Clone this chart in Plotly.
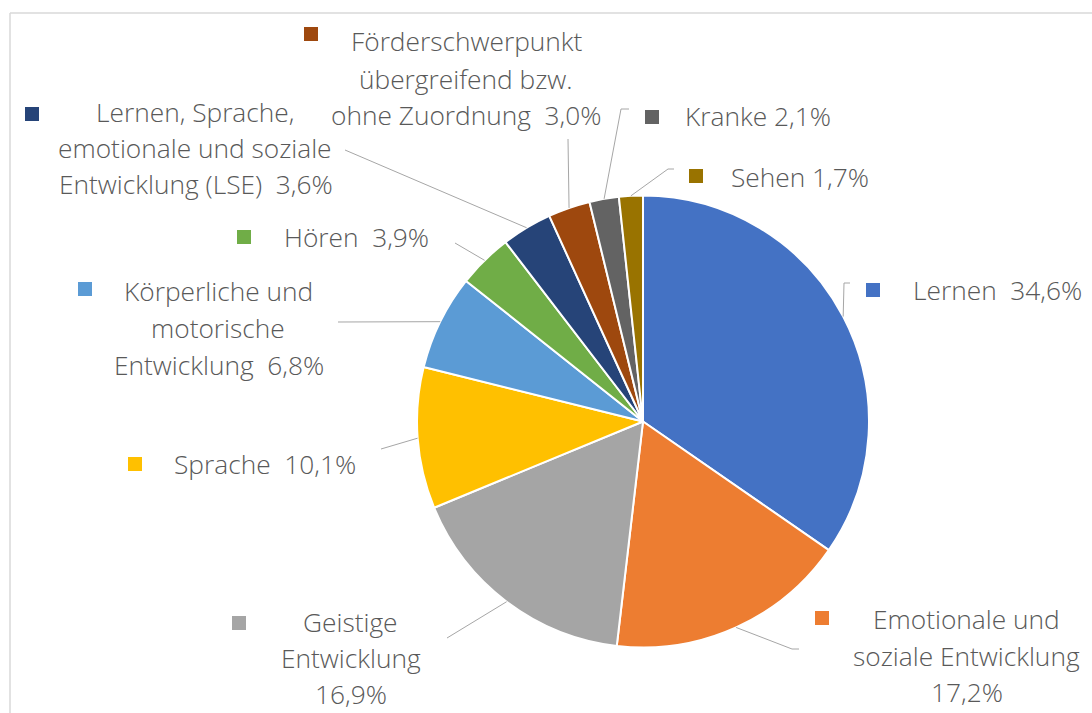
import math
import plotly.graph_objects as go

# ---------------- data ----------------
categories = [
    "Lernen",
    "Emotionale und soziale Entwicklung",
    "Geistige Entwicklung",
    "Sprache",
    "Körperliche und motorische Entwicklung",
    "Hören",
    "Lernen, Sprache, emotionale und soziale Entwicklung (LSE)",
    "Förderschwerpunkt übergreifend bzw. ohne Zuordnung",
    "Kranke",
    "Sehen",
]
values = [34.6, 17.2, 16.9, 10.1, 6.8, 3.9, 3.6, 3.0, 2.1, 1.7]
colors = ["#4472C4", "#ED7D31", "#A5A5A5", "#FFC000", "#5B9BD5",
          "#70AD47", "#264478", "#9E480E", "#636363", "#997300"]

# label line breaks (text only); pct appended per layout spec
name_lines = [
    ["Lernen"],
    ["Emotionale und", "soziale Entwicklung"],
    ["Geistige", "Entwicklung"],
    ["Sprache"],
    ["Körperliche und", "motorische", "Entwicklung"],
    ["Hören"],
    ["Lernen, Sprache,", "emotionale und soziale", "Entwicklung (LSE)"],
    ["Förderschwerpunkt", "übergreifend bzw.", "ohne Zuordnung"],
    ["Kranke"],
    ["Sehen"],
]

# ---------------- layout constants (pixels) ----------------
W, H = 1092, 713
CX, CY, R = 643, 421.5, 226
FONT = "Open Sans"
FSIZE = 26.3
TXT = "#595959"
LEADER = "#A6A6A6"
SQ = 14

# per category: square top-left, line centers, pct placement, sep, leader waypoints
lay = [
    dict(sq=(866, 283), lines=[(997, 290)], pct="same", sep="  ", lead=[(844, 283), (850, 283)]),
    dict(sq=(815, 611), lines=[(966, 619), (966, 656), (967, 692)], pct="new", sep="", lead=[(792, 649), (799, 649)]),
    dict(sq=(232, 616), lines=[(350, 622), (351, 658), (351, 694)], pct="new", sep="", lead=[(447, 638)]),
    dict(sq=(128, 457), lines=[(265, 464)], pct="same", sep="  ", lead=[(381, 449)]),
    dict(sq=(78, 282), lines=[(218, 291), (218, 328), (219, 365)], pct="same", sep="  ", lead=[(338, 322)]),
    dict(sq=(237, 230), lines=[(356, 237)], pct="same", sep="  ", lead=[(455, 243)]),
    dict(sq=(25, 107), lines=[(195, 112), (195, 148), (196, 184)], pct="same", sep="  ", lead=[(345, 150)]),
    dict(sq=(304, 27), lines=[(467, 41), (466, 79), (466, 115)], pct="same", sep="  ", lead=[(568, 139)]),
    dict(sq=(645, 110), lines=[(758, 116)], pct="same", sep=" ", lead=[(621, 109), (629, 109)]),
    dict(sq=(689, 169), lines=[(800, 177)], pct="same", sep=" ", lead=[(668, 169), (674, 169)]),
]


def px(x):
    return x / W


def py(y):
    return 1 - y / H


def fmt(v):
    return f"{v:.1f}".replace(".", ",") + "%"


fig = go.Figure()
fig.add_trace(go.Pie(
    labels=categories,
    values=values,
    sort=False,
    direction="clockwise",
    rotation=0,
    marker=dict(colors=colors, line=dict(color="white", width=2)),
    textinfo="none",
    hoverinfo="label+percent",
    showlegend=False,
    domain=dict(x=[px(CX - R), px(CX + R)], y=[py(CY + R), py(CY - R)]),
))

shapes = []
annotations = []

# chart border (light gray)
shapes.append(dict(type="line", xref="paper", yref="paper",
                   x0=px(10), y0=py(13), x1=px(W + 5), y1=py(13),
                   line=dict(color="#D9D9D9", width=1.5)))
shapes.append(dict(type="line", xref="paper", yref="paper",
                   x0=px(10), y0=py(13), x1=px(10), y1=py(H + 5),
                   line=dict(color="#D9D9D9", width=1.5)))

total = sum(values)
cum = 0.0
for i, v in enumerate(values):
    mid = (cum + v / 2) / total * 2 * math.pi
    cum += v
    ax = CX + R * math.sin(mid)
    ay = CY - R * math.cos(mid)
    L = lay[i]
    pts = [(ax, ay)] + L["lead"]
    for (x0, y0), (x1, y1) in zip(pts[:-1], pts[1:]):
        shapes.append(dict(type="line", xref="paper", yref="paper",
                           x0=px(x0), y0=py(y0), x1=px(x1), y1=py(y1),
                           line=dict(color=LEADER, width=1)))
    # marker square
    sx, sy = L["sq"]
    shapes.append(dict(type="rect", xref="paper", yref="paper",
                       x0=px(sx), y0=py(sy), x1=px(sx + SQ), y1=py(sy + SQ),
                       fillcolor=colors[i], line=dict(width=0)))
    # text lines
    lines = list(name_lines[i])
    if L["pct"] == "same":
        lines[-1] = lines[-1] + L["sep"] + fmt(v)
    else:
        lines.append(fmt(v))
    for (tx, ty), t in zip(L["lines"], lines):
        annotations.append(dict(x=px(tx), y=py(ty), xref="paper", yref="paper",
                                text=t.replace("  ", "&nbsp; "), showarrow=False,
                                xanchor="center", yanchor="middle",
                                font=dict(family=FONT, size=FSIZE, color=TXT, weight=300)))

fig.update_layout(
    width=W, height=H,
    margin=dict(l=0, r=0, t=0, b=0),
    paper_bgcolor="white",
    plot_bgcolor="white",
    shapes=shapes,
    annotations=annotations,
)

fig.write_html("out.html")
